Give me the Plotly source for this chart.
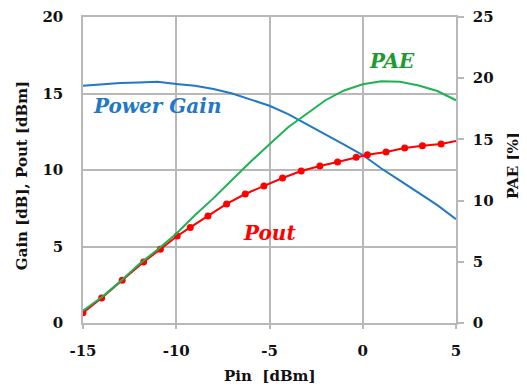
import plotly.graph_objects as go

# Pin sweep [dBm]
pin = [-15, -14, -13, -12, -11, -10, -9, -8, -7, -6, -5,
       -4, -3, -2, -1, 0, 1, 2, 3, 4, 5]
gain = [15.5, 15.6, 15.68, 15.72, 15.76, 15.62, 15.5, 15.3, 15.0, 14.6, 14.2,
        13.65, 13.0, 12.33, 11.66, 10.98, 10.1, 9.3, 8.5, 7.7, 6.78]
pae = [1.0, 2.1, 3.4, 4.8, 6.0, 7.3, 8.8, 10.2, 11.7, 13.2, 14.6,
       16.0, 17.1, 18.2, 19.0, 19.5, 19.75, 19.7, 19.4, 18.95, 18.2]

# Pout measured points
pout_pin = [-15, -14, -12.9, -11.75, -10.85, -9.95, -9.25, -8.3, -7.3, -6.3, -5.3,
            -4.3, -3.3, -2.3, -1.35, -0.35, 0.25, 1.25, 2.25, 3.2, 4.2, 5.2]
pout = [0.67, 1.63, 2.8, 3.99, 4.82, 5.69, 6.25, 6.99, 7.78, 8.43, 8.95,
        9.48, 9.93, 10.26, 10.52, 10.83, 11.0, 11.18, 11.44, 11.59, 11.7, 11.95]

x_ticks = [-15, -10, -5, 0, 5]
x_ticktext = ['-15', '-10', '-5', '0', '5']

FONT = 'DejaVu Serif'
GRID = '#b8b8b8'

fig = go.Figure()

fig.add_trace(go.Scatter(x=pin, y=gain, mode='lines', name='Power Gain',
                         line=dict(color='#1f78c8', width=2)))
fig.add_trace(go.Scatter(x=pout_pin, y=pout, mode='lines+markers', name='Pout',
                         line=dict(color='#ff0000', width=2),
                         marker=dict(color='#ff0000', size=7)))
fig.add_trace(go.Scatter(x=pin, y=pae, mode='lines', name='PAE', yaxis='y2',
                         line=dict(color='#1db352', width=2)))

tickfont = dict(family=FONT, size=15, color='#111111', weight='bold')

# page body has an 8px margin, so the figure is a bit smaller than the window
fig.update_layout(
    width=519, height=381,
    margin=dict(l=75, r=71, t=9, b=66, autoexpand=False),
    plot_bgcolor='white', paper_bgcolor='white',
    showlegend=False,
    xaxis=dict(range=[-15, 5], tickvals=x_ticks, ticktext=x_ticktext,
               showgrid=True, gridcolor=GRID, gridwidth=1.5,
               showline=True, linecolor=GRID, linewidth=1.5, mirror=True,
               ticks='outside', ticklen=4, tickcolor=GRID, tickwidth=1.5,
               ticklabelstandoff=9, zeroline=False, tickfont=tickfont),
    yaxis=dict(range=[0, 20], dtick=5, showgrid=True, gridcolor=GRID, gridwidth=1.5,
               showline=True, linecolor=GRID, linewidth=1.5,
               ticks='', ticklabelstandoff=15, zeroline=False, tickfont=tickfont),
    yaxis2=dict(range=[0, 25], dtick=5, overlaying='y', side='right', showgrid=False,
                showline=True, linecolor=GRID, linewidth=1.5,
                ticks='outside', ticklen=6, tickcolor=GRID, tickwidth=1.5,
                ticklabelstandoff=6, zeroline=False, tickfont=tickfont),
)

label_font = dict(family=FONT, size=20, style='italic', weight='bold')
fig.add_annotation(x=-11.04, y=14.18, xref='x', yref='y', text='Power Gain',
                   showarrow=False, font=dict(label_font, color='#1f78c8'))
fig.add_annotation(x=1.55, y=17.1, xref='x', yref='y', text='PAE',
                   showarrow=False, font=dict(label_font, color='#1e9a30'))
fig.add_annotation(x=-4.98, y=5.88, xref='x', yref='y', text='Pout',
                   showarrow=False, font=dict(label_font, color='#ff0000'))

title_font = dict(family=FONT, size=15, color='#111111', weight='bold')
fig.add_annotation(x=0.501, y=-0.173, xref='paper', yref='paper',
                   xanchor='center', yanchor='middle',
                   text='Pin\u00a0 [dBm]', showarrow=False, font=title_font)
fig.add_annotation(x=-0.1635, y=0.48, xref='paper', yref='paper',
                   xanchor='center', yanchor='middle',
                   text='Gain [dB], Pout [dBm]', textangle=-90,
                   showarrow=False, font=title_font)
fig.add_annotation(x=1.153, y=0.513, xref='paper', yref='paper',
                   xanchor='center', yanchor='middle',
                   text='PAE [%]', textangle=-90,
                   showarrow=False, font=title_font)

fig.write_html('out.html')
